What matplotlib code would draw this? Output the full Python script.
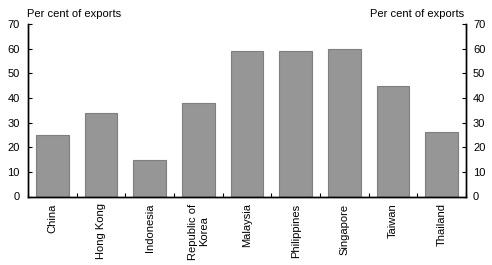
import numpy as np
import matplotlib
matplotlib.use("Agg")
import matplotlib.pyplot as plt

plt.rcParams["font.family"] = ["Liberation Sans", "DejaVu Sans"]
plt.rcParams["font.size"] = 8

countries = ["China", "Hong Kong", "Indonesia", "Republic of\nKorea", "Malaysia",
             "Philippines", "Singapore", "Taiwan", "Thailand"]
share = [25, 34, 15, 38, 59, 59, 60, 45, 26]
yticks = [0, 10, 20, 30, 40, 50, 60, 70]

fig = plt.figure(figsize=(4.92, 2.65), dpi=100)
ax = fig.add_axes([28 / 492, 1 - 196.5 / 265, 438 / 492, 172.5 / 265])

x = np.arange(len(countries))
ax.bar(x, share, width=0.67, color="#969696", edgecolor="#7f7f7f", linewidth=0.8)

ax.set_xlim(-0.5, len(countries) - 0.5)
ax.set_ylim(0, 70)
ax.set_yticks(yticks)
ax.tick_params(axis="y", direction="in", length=3, width=0.8, pad=6)

# right hand axis, same scale
ax2 = ax.twinx()
ax2.set_ylim(ax.get_ylim())
ax2.set_yticks(yticks)
ax2.tick_params(axis="y", direction="in", length=3, width=0.8, pad=5)

ax.set_xticks(x)
ax.set_xticklabels(countries, rotation=90, va="top", ha="center", multialignment="center")
ax.tick_params(axis="x", length=0, pad=5)
# boundary ticks between categories
ax.set_xticks(np.arange(len(countries) + 1) - 0.5, minor=True)
ax.tick_params(axis="x", which="minor", direction="in", length=3, width=0.8)

for a in (ax, ax2):
    a.spines["top"].set_visible(False)
    for s in ["left", "right", "bottom"]:
        a.spines[s].set_linewidth(1)

fig.text(27 / 492, 1 - 14 / 265, "Per cent of exports", ha="left", va="center")
fig.text(464 / 492, 1 - 14 / 265, "Per cent of exports", ha="right", va="center")

fig.savefig("out.png", dpi=100)
